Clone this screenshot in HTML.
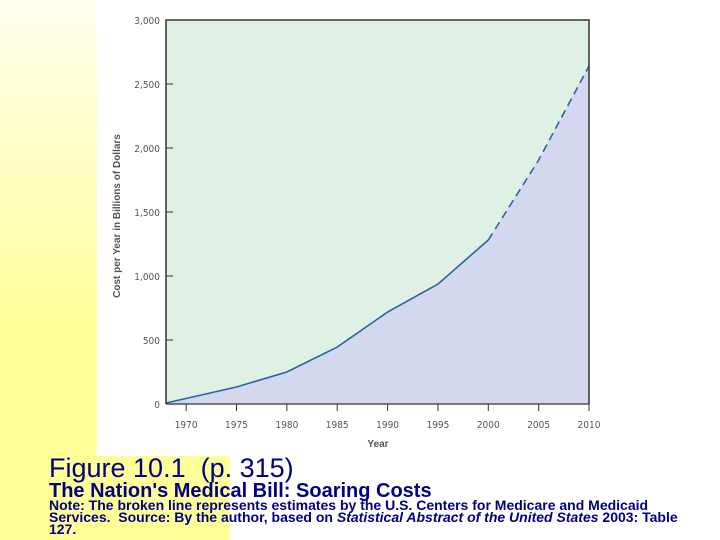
<!DOCTYPE html>
<html><head><meta charset="utf-8"><style>
body{margin:0;width:720px;height:540px;overflow:hidden;background:#fff;position:relative;font-family:"Liberation Sans",sans-serif}
#strip{position:absolute;left:0;top:0;width:230px;height:540px;background:linear-gradient(#fffff0,#ffff99 60%,#ffff99)}
#img{position:absolute;left:97px;top:0;width:623px;height:456px;background:#fff}
svg{position:absolute;left:0;top:0}
.cap{position:absolute;left:49px;color:#000080;white-space:nowrap}
</style></head><body>
<div id="strip"></div>
<div id="img"></div>
<svg id="chart" width="720" height="540"></svg>
<div class="cap" style="top:453px;font-size:27px;line-height:30px">Figure 10.1&nbsp; (p. 315)</div>
<div class="cap" style="top:480px;font-size:20px;line-height:22px;font-weight:bold">The Nation's Medical Bill: Soaring Costs</div>
<div class="cap" style="top:499px;font-size:14px;font-weight:bold;line-height:12px">Note: The broken line represents estimates by the U.S. Centers for Medicare and Medicaid<br>Services.&nbsp; Source: By the author, based on <i>Statistical Abstract of the United States</i> 2003: Table<br>127.</div>
<script>
const years=[1968,1975,1980,1985,1990,1995,2000,2005,2010];
const costs=[8,133,250,445,718,937,1281,1906,2640];
const estimateFrom=2000;
const yTicks=[0,500,1000,1500,2000,2500,3000];
const xTicks=[1970,1975,1980,1985,1990,1995,2000,2005,2010];
const NS="http://www.w3.org/2000/svg";
const svg=document.getElementById('chart');
const x0=166,x1=589,yb=404,yt=20;
const X=v=>x0+(v-1968)*(x1-x0)/(2010-1968);
const Y=v=>yb-v*(yb-yt)/3000;
function el(t,a,p){const e=document.createElementNS(NS,t);for(const k in a)e.setAttribute(k,a[k]);(p||svg).appendChild(e);return e;}
let e=el('rect',{x:x0,y:yt,width:x1-x0,height:yb-yt,fill:'#e1f0e4'});


let pts=years.map((y,i)=>X(y)+','+Y(costs[i]));
e=el('polygon',{points:pts.join(' ')+' '+X(2010)+','+yb+' '+X(1968)+','+yb,fill:'#d4d8ee'});


let solid=[],dash=[];
years.forEach((y,i)=>{const p=X(y)+','+Y(costs[i]);if(y<=estimateFrom)solid.push(p);if(y>=estimateFrom)dash.push(p);});
e=el('polyline',{points:solid.join(' '),fill:'none',stroke:'#2a64a8','stroke-width':1.6});


e=el('polyline',{points:dash.join(' '),fill:'none',stroke:'#2a64a8','stroke-width':1.6,'stroke-dasharray':'8,5'});


e=el('polyline',{points:`${x0},${yb} ${x0},${yt} ${x1},${yt} ${x1},${yb}`,fill:'none',stroke:'#333','stroke-width':1.5});


e=el('line',{x1:x0,y1:yb,x2:x1,y2:yb,stroke:'#333','stroke-width':1.2});


yTicks.forEach(v=>{
 const t=el('line',{x1:x0,y1:Y(v),x2:x0+7,y2:Y(v),stroke:'#333'});
 
 
 const l=el('text',{x:x0-6,y:Y(v)+4,'text-anchor':'end','font-size':10,fill:'#555','font-family':'DejaVu Sans Condensed, Liberation Sans, sans-serif'});
 l.textContent=v.toLocaleString('en-US');
 
 
});
xTicks.forEach(v=>{
 const t=el('line',{x1:X(v),y1:yb,x2:X(v),y2:yb+7,stroke:'#333'});
 
 
 const l=el('text',{x:X(v),y:yb+24,'text-anchor':'middle','font-size':10,fill:'#555','font-family':'DejaVu Sans Condensed, Liberation Sans, sans-serif'});
 l.textContent=v;
 
 
});
e=el('text',{x:378,y:447,'text-anchor':'middle','font-size':10,'font-weight':'bold',fill:'#555'});
e.textContent='Year';


e=el('text',{x:0,y:0,transform:'translate(120,216) rotate(-90)','text-anchor':'middle','font-size':10,'font-weight':'bold',fill:'#555'});
e.textContent='Cost per Year in Billions of Dollars';


</script>
</body></html>
